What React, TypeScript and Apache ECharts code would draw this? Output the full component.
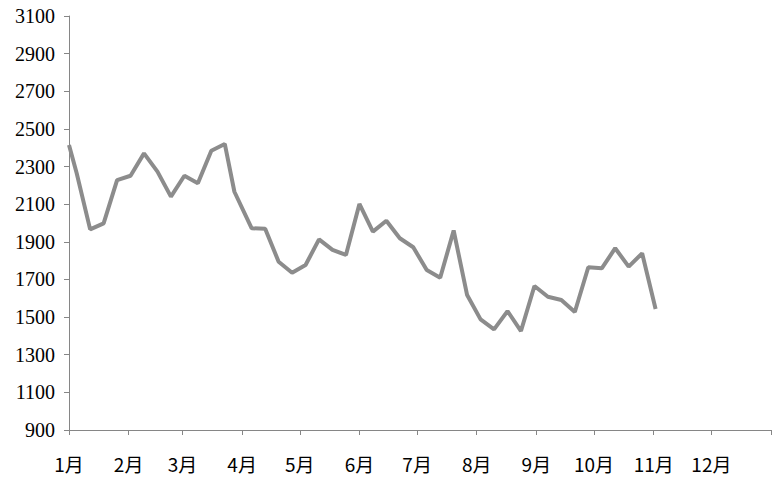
import React, { useEffect, useRef } from "react";
import * as echarts from "echarts";

// month boundaries (day of year, non-leap year) and labels
const monthStarts = [0, 31, 59, 90, 120, 151, 181, 212, 243, 273, 304, 334, 365];
const monthLabels = ["1月", "2月", "3月", "4月", "5月", "6月", "7月", "8月", "9月", "10月", "11月", "12月"];

// observation days (day of year) and values
const days = [
  0, 4, 11, 18, 25, 32, 39, 46, 53, 60, 67, 74, 81, 86, 95, 102, 109, 116, 123, 130,
  137, 144, 151, 158, 165, 172, 179, 186, 193, 200, 207, 214, 221, 228, 235, 242, 249,
  256, 263, 270, 277, 284, 291, 298, 305,
];
const values = [
  2415, 2264, 1966, 1998, 2228, 2251, 2370, 2273, 2140, 2251, 2211, 2384, 2420, 2166,
  1972, 1970, 1794, 1736, 1777, 1913, 1857, 1830, 2101, 1954, 2012, 1919, 1871, 1750,
  1709, 1960, 1617, 1488, 1435, 1532, 1426, 1665, 1608, 1591, 1527, 1765, 1759, 1866,
  1768, 1839, 1543,
];

const yMin = 900;
const yMax = 3100;
const yStep = 200;

export default function App() {
  const ref = useRef<HTMLDivElement>(null);
  useEffect(() => {
    if (!ref.current) return;
    const chart = echarts.init(ref.current, null, { renderer: "svg" });
    const axisGray = "#868686";
    chart.setOption({
      animation: false,
      backgroundColor: "#ffffff",
      grid: { left: 69, right: 6, top: 16, bottom: 54, containLabel: false },
      xAxis: {
        type: "value",
        min: monthStarts[0],
        max: monthStarts[monthStarts.length - 1],
        axisLine: { show: true, lineStyle: { color: axisGray, width: 1 } },
        axisTick: {
          show: true,
          length: 5,
          lineStyle: { color: axisGray },
          customValues: monthStarts,
        },
        axisLabel: {
          customValues: monthStarts.slice(0, 12),
          formatter: (v: number) => {
            const i = monthStarts.indexOf(Math.round(v));
            return i >= 0 && i < 12 ? monthLabels[i] : "";
          },
          color: "#000",
          fontSize: 19,
          fontFamily: "Noto Sans CJK SC",
          margin: 24,
        },
        splitLine: { show: false },
      },
      yAxis: {
        type: "value",
        min: yMin,
        max: yMax,
        interval: yStep,
        axisLine: { show: true, lineStyle: { color: axisGray, width: 1 } },
        axisTick: { show: true, length: 5, lineStyle: { color: axisGray } },
        axisLabel: {
          color: "#000",
          fontSize: 20,
          fontFamily: "Liberation Serif",
          margin: 14,
          formatter: (v: number) => String(v),
        },
        splitLine: { show: false },
      },
      series: [
        {
          type: "line",
          data: days.map((d, i) => [d, values[i]]),
          symbol: "none",
          lineStyle: { color: "#8c8c8c", width: 4 },
          itemStyle: { color: "#8c8c8c" },
        },
      ],
    });
    return () => chart.dispose();
  }, []);
  return <div ref={ref} style={{ width: 777, height: 484, position: "absolute", left: 0, top: 0 }} />;
}
